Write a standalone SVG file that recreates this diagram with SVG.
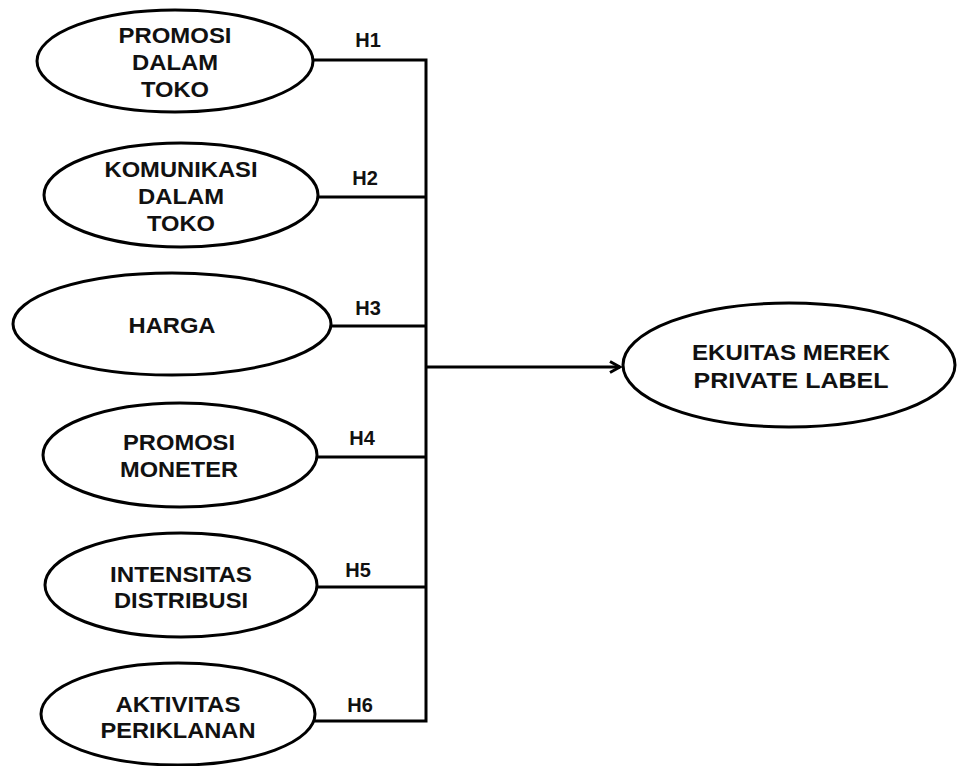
<svg xmlns="http://www.w3.org/2000/svg" width="957" height="766" viewBox="0 0 957 766">
<style>
.n ellipse{fill:#fff;stroke:#000;stroke-width:3}
text{font-family:"Liberation Sans",Arial,sans-serif;font-weight:bold;fill:#111;text-anchor:middle}
.t{font-size:22.5px}
.h{font-size:20px}
.c{fill:none;stroke:#000;stroke-width:3}
</style>
<defs>
<marker id="arr" markerWidth="14" markerHeight="14" refX="12" refY="7" orient="auto" markerUnits="userSpaceOnUse">
<polyline points="2,1.5 12,7 2,12.5" fill="none" stroke="#000" stroke-width="3"/>
</marker>
</defs>
<g id="connectors">
<polyline class="c" points="312,60 426,60 426,721 314,721"/>
<line class="c" x1="318" y1="197" x2="426" y2="197"/>
<line class="c" x1="331" y1="326" x2="426" y2="326"/>
<line class="c" x1="317" y1="457" x2="426" y2="457"/>
<line class="c" x1="317" y1="587" x2="426" y2="587"/>
<line class="c" x1="426" y1="367" x2="620" y2="367" marker-end="url(#arr)"/>
<text class="h" x="368" y="47">H1</text>
<text class="h" x="365" y="185">H2</text>
<text class="h" x="368" y="315">H3</text>
<text class="h" x="362" y="445">H4</text>
<text class="h" x="358" y="577">H5</text>
<text class="h" x="360" y="712">H6</text>
</g>
<g id="n1" class="n">
<ellipse cx="175" cy="61" rx="138" ry="51"/>
<text class="t" x="175" y="43" textLength="113" lengthAdjust="spacingAndGlyphs">PROMOSI</text>
<text class="t" x="175" y="70" textLength="86" lengthAdjust="spacingAndGlyphs">DALAM</text>
<text class="t" x="175" y="97" textLength="68" lengthAdjust="spacingAndGlyphs">TOKO</text>
</g>
<g id="n2" class="n">
<ellipse cx="181" cy="195" rx="137" ry="52"/>
<text class="t" x="181" y="177" textLength="153" lengthAdjust="spacingAndGlyphs">KOMUNIKASI</text>
<text class="t" x="181" y="204" textLength="86" lengthAdjust="spacingAndGlyphs">DALAM</text>
<text class="t" x="181" y="231" textLength="68" lengthAdjust="spacingAndGlyphs">TOKO</text>
</g>
<g id="n3" class="n">
<ellipse cx="172" cy="324" rx="159" ry="51"/>
<text class="t" x="172" y="333" textLength="87" lengthAdjust="spacingAndGlyphs">HARGA</text>
</g>
<g id="n4" class="n">
<ellipse cx="180" cy="455" rx="137" ry="52"/>
<text class="t" x="179" y="450" textLength="112" lengthAdjust="spacingAndGlyphs">PROMOSI</text>
<text class="t" x="179" y="477" textLength="118" lengthAdjust="spacingAndGlyphs">MONETER</text>
</g>
<g id="n5" class="n">
<ellipse cx="181" cy="585" rx="136" ry="52"/>
<text class="t" x="181" y="582" textLength="142" lengthAdjust="spacingAndGlyphs">INTENSITAS</text>
<text class="t" x="181" y="608" textLength="134" lengthAdjust="spacingAndGlyphs">DISTRIBUSI</text>
</g>
<g id="n6" class="n">
<ellipse cx="178" cy="714" rx="137" ry="51"/>
<text class="t" x="178" y="712" textLength="125" lengthAdjust="spacingAndGlyphs">AKTIVITAS</text>
<text class="t" x="178" y="738" textLength="155" lengthAdjust="spacingAndGlyphs">PERIKLANAN</text>
</g>
<g id="n7" class="n">
<ellipse cx="789" cy="365" rx="166" ry="62"/>
<text class="t" x="791" y="360" textLength="198" lengthAdjust="spacingAndGlyphs">EKUITAS MEREK</text>
<text class="t" x="791" y="388" textLength="195" lengthAdjust="spacingAndGlyphs">PRIVATE LABEL</text>
</g>
</svg>
